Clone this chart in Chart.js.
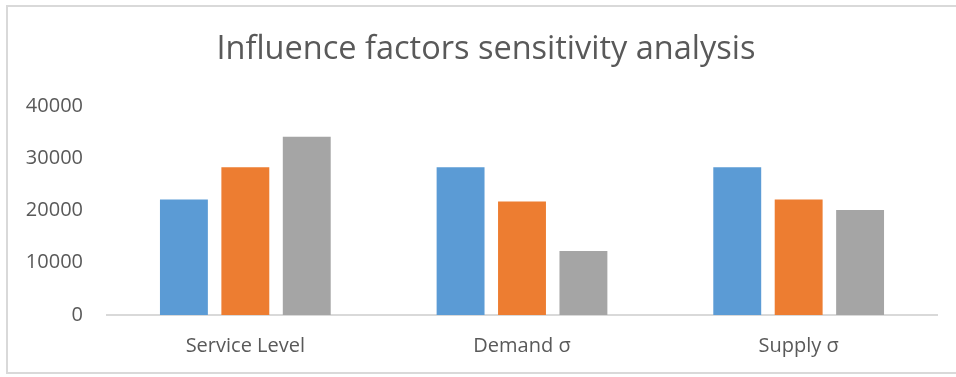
<!DOCTYPE html>
<html>
<head>
<meta charset="utf-8">
<script src="https://cdn.jsdelivr.net/npm/chart.js@4"></script>
<style>
  html, body { margin: 0; padding: 0; background: #fff; overflow: hidden; }
  #wrap { position: relative; width: 956px; height: 377px; overflow: hidden; }
  #myChart { display: block; }
  #frame {
    position: absolute; left: 6px; top: 5px; width: 1000px; height: 369px;
    border: 2px solid #d9d9d9; box-sizing: border-box; pointer-events: none;
  }
  /* the original title sits centred on the whole frame, not on the canvas */
  #titulo {
    position: absolute; left: 0; top: 27px; width: 972px; margin: 0;
    font: normal 32.5px/39px 'Open Sans', sans-serif; color: #595959;
    text-align: center; white-space: nowrap;
  }
</style>
</head>
<body>
<div id="wrap">
  <canvas id="myChart" width="956" height="377"></canvas>
  <div id="frame"></div>
  <h1 id="titulo">Influence factors sensitivity analysis</h1>
</div>
<script>
// data
var categorias = ['Service Level', 'Demand σ', 'Supply σ'];
var serie1 = [22100, 28300, 28300];
var serie2 = [28300, 21700, 22100];
var serie3 = [34100, 12250, 20100];
var ticksY = [0, 10000, 20000, 30000, 40000];

var colores = ['#5b9bd5', '#ed7d31', '#a5a5a5'];
var fuente = "'Open Sans', sans-serif";

const config = {
    type: 'bar',
    data: {
        labels: categorias,
        datasets: [
            { label: 'Serie 1', data: serie1, backgroundColor: colores[0] },
            { label: 'Serie 2', data: serie2, backgroundColor: colores[1] },
            { label: 'Serie 3', data: serie3, backgroundColor: colores[2] }
        ]
    },
    options: {
        responsive: false,
        animation: false,
        categoryPercentage: 0.666,
        barPercentage: 0.78,
        layout: { padding: { left: 0, right: 19, top: 106, bottom: 0 } },
        plugins: {
            legend: { display: false },
            tooltip: { enabled: false },
            title: { display: false }
        },
        scales: {
            x: {
                grid: { display: false, drawTicks: false },
                border: { display: true, color: '#d9d9d9', width: 2 },
                ticks: { color: '#595959', font: { family: fuente, size: 20 }, padding: 19 }
            },
            y: {
                min: 0,
                max: 40000,
                afterBuildTicks: (axis) => { axis.ticks = ticksY.map(v => ({ value: v })); },
                afterFit: (axis) => { axis.width = 107; },
                grid: { display: false, drawTicks: false },
                border: { display: false },
                ticks: {
                    color: '#595959',
                    font: { family: fuente, size: 20 },
                    padding: 24,
                    callback: (v) => String(v)
                }
            }
        }
    }
};

const myChart = new Chart(document.getElementById('myChart'), config);
</script>
</body>
</html>
